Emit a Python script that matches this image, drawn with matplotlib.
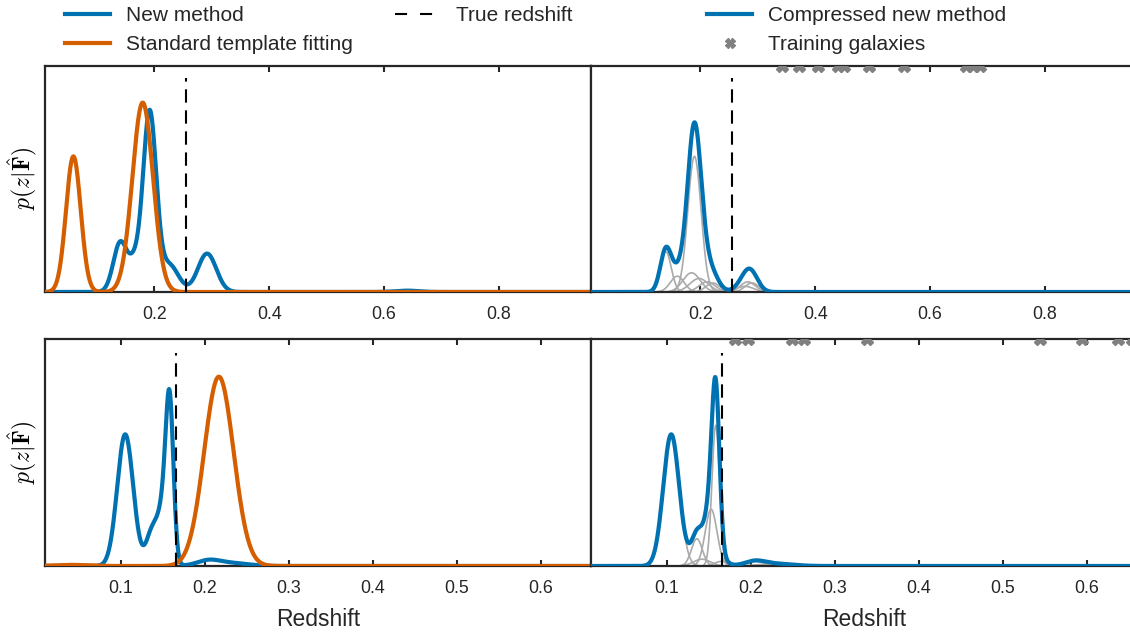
import numpy as np
import matplotlib
matplotlib.use("Agg")
import matplotlib.pyplot as plt
from matplotlib.lines import Line2D

# ---------------- data ----------------
top_xlim = (0.01, 0.96)
bot_xlim = (0.01, 0.66)
top_ticks = [0.2, 0.4, 0.6, 0.8]
bot_ticks = [0.1, 0.2, 0.3, 0.4, 0.5, 0.6]
true_z_top = 0.256
true_z_bot = 0.166

# Gaussian-kernel mixtures (centre, amplitude [fraction of axis height], width)
# Top row, "New method"
tl_new_mu = [0.141, 0.166, 0.192, 0.226, 0.292, 0.640]
tl_new_amp = [0.22, 0.11, 0.79, 0.12, 0.17, 0.006]
tl_new_sig = [0.012, 0.010, 0.0115, 0.016, 0.016, 0.020]
# Top row, "Standard template fitting"
tl_std_mu = [0.0594, 0.180]
tl_std_amp = [0.60, 0.838]
tl_std_sig = [0.0128, 0.018]
# Top row, compressed components
tr_cmp_mu = [0.140, 0.190, 0.185, 0.198, 0.212, 0.222, 0.283, 0.290, 0.278, 0.160]
tr_cmp_amp = [0.18, 0.60, 0.085, 0.06, 0.045, 0.04, 0.045, 0.04, 0.025, 0.07]
tr_cmp_sig = [0.0095, 0.0115, 0.015, 0.016, 0.014, 0.012, 0.013, 0.012, 0.015, 0.012]
# Top row training galaxies
tr_train_z = [0.343, 0.372, 0.405, 0.440, 0.450, 0.493, 0.554, 0.662, 0.674, 0.686]

# Bottom row, "New method"
bl_new_mu = [0.1055, 0.137, 0.142, 0.152, 0.1585, 0.205, 0.235]
bl_new_amp = [0.58, 0.12, 0.03, 0.25, 0.60, 0.025, 0.012]
bl_new_sig = [0.0095, 0.0065, 0.010, 0.007, 0.0045, 0.014, 0.018]
# Bottom row, "Standard template fitting"
bl_std_mu = [0.040, 0.217]
bl_std_amp = [0.005, 0.834]
bl_std_sig = [0.020, 0.0175]
# Bottom row, compressed components
br_cmp_mu = [0.1055, 0.136, 0.142, 0.153, 0.1585, 0.165, 0.205, 0.230]
br_cmp_amp = [0.58, 0.12, 0.03, 0.25, 0.62, 0.02, 0.02, 0.01]
br_cmp_sig = [0.0095, 0.0065, 0.010, 0.007, 0.0045, 0.008, 0.012, 0.020]
# Bottom row training galaxies
br_train_z = [0.181, 0.1965, 0.249, 0.263, 0.339, 0.545, 0.594, 0.637, 0.654]

# ---------------- style ----------------
BLUE = "#0072B2"
ORANGE = "#D55E00"
GREY = "#aaaaaa"
SPINE = "#262626"
plt.rcParams["font.family"] = ["Liberation Sans", "DejaVu Sans"]
plt.rcParams["mathtext.fontset"] = "cm"

W, H = 1130, 632
fig = plt.figure(figsize=(W / 100, H / 100), dpi=100)


def comps(z, mu, amp, sig):
    mu = np.asarray(mu)[:, None]
    amp = np.asarray(amp)[:, None]
    sig = np.asarray(sig)[:, None]
    return amp * np.exp(-0.5 * ((z[None, :] - mu) / sig) ** 2)


def make_ax(x0, y_top, y_bot, xlim, ticks, ylabel):
    ax = fig.add_axes([x0 / W, 1 - y_bot / H, 546 / W, (y_bot - y_top) / H])
    ax.set_xlim(*xlim)
    ax.set_ylim(0, 1)
    ax.set_xticks(ticks)
    ax.set_xticklabels([f"{t:.1f}" for t in ticks])
    ax.set_yticks([])
    ax.tick_params(axis="x", direction="in", top=True, bottom=True, length=4,
                   width=1.5, color=SPINE, labelsize=12.8, pad=10,
                   labelcolor="#262626")
    for s in ax.spines.values():
        s.set_linewidth(1.6)
        s.set_color(SPINE)
    if ylabel:
        ax.set_ylabel(r"$p(z|\hat{\mathbf{F}})$", fontsize=17, labelpad=4)
    return ax


z = np.linspace(0.0, 1.0, 3000)
LW = 3.0
DASH = (6.4, 3.7)

# ---- top-left ----
ax = make_ax(45, 66, 292, top_xlim, top_ticks, True)
ax.plot(z, comps(z, tl_new_mu, tl_new_amp, tl_new_sig).sum(0), color=BLUE, lw=LW, zorder=3)
ax.plot(z, comps(z, tl_std_mu, tl_std_amp, tl_std_sig).sum(0), color=ORANGE, lw=LW, zorder=4)
ax.plot([true_z_top, true_z_top], [0, 0.945], color="black", lw=1.5,
        dashes=DASH, zorder=5)

# ---- top-right ----
ax = make_ax(591, 66, 292, top_xlim, top_ticks, False)
c = comps(z, tr_cmp_mu, tr_cmp_amp, tr_cmp_sig)
for row in c:
    ax.plot(z, row, color=GREY, lw=1.2, zorder=2)
ax.plot(z, c.sum(0), color=BLUE, lw=LW, zorder=3)
ax.plot([true_z_top, true_z_top], [0, 0.945], color="black", lw=1.5,
        dashes=DASH, zorder=5)
ax.plot(tr_train_z, np.ones(len(tr_train_z)), ls="none", marker="X", ms=8,
        color="#808080", mec="#808080", zorder=6)

# ---- bottom-left ----
ax = make_ax(45, 339, 566, bot_xlim, bot_ticks, True)
ax.plot(z, comps(z, bl_new_mu, bl_new_amp, bl_new_sig).sum(0), color=BLUE, lw=LW, zorder=3)
ax.plot(z, comps(z, bl_std_mu, bl_std_amp, bl_std_sig).sum(0), color=ORANGE, lw=LW, zorder=4)
ax.plot([true_z_bot, true_z_bot], [0, 0.94], color="black", lw=1.5,
        dashes=DASH, zorder=5)
ax.set_xlabel("Redshift", fontsize=16.5, labelpad=8, color="#262626")

# ---- bottom-right ----
ax = make_ax(591, 339, 566, bot_xlim, bot_ticks, False)
c = comps(z, br_cmp_mu, br_cmp_amp, br_cmp_sig)
for row in c:
    ax.plot(z, row, color=GREY, lw=1.2, zorder=2)
ax.plot(z, c.sum(0), color=BLUE, lw=LW, zorder=3)
ax.plot([true_z_bot, true_z_bot], [0, 0.94], color="black", lw=1.5,
        dashes=DASH, zorder=5)
ax.plot(br_train_z, np.ones(len(br_train_z)), ls="none", marker="X", ms=8,
        color="#808080", mec="#808080", zorder=6)
ax.set_xlabel("Redshift", fontsize=16.5, labelpad=8, color="#262626")

# ---------------- legends ----------------
leg_kw = dict(frameon=False, fontsize=15, handlelength=2.16, handletextpad=0.77,
              borderpad=0, borderaxespad=0, labelspacing=0.5, loc="upper left",
              labelcolor="#262626")
h_new = Line2D([], [], color=BLUE, lw=LW)
h_std = Line2D([], [], color=ORANGE, lw=LW)
h_true = Line2D([], [], color="black", lw=1.5, dashes=(5.8, 6.2))
h_cmp = Line2D([], [], color=BLUE, lw=LW)
h_train = Line2D([], [], ls="none", marker="X", ms=7, color="#808080")

top = 1 - 6 / H
fig.legend([h_new, h_std], ["New method", "Standard template fitting"],
           bbox_to_anchor=(65 / W, top), **leg_kw)
fig.legend([h_true], ["True redshift"],
           bbox_to_anchor=(395 / W, top), **leg_kw)
fig.legend([h_cmp, h_train], ["Compressed new method", "Training galaxies"],
           bbox_to_anchor=(707 / W, top), **leg_kw)

fig.savefig("out.png", dpi=100)
